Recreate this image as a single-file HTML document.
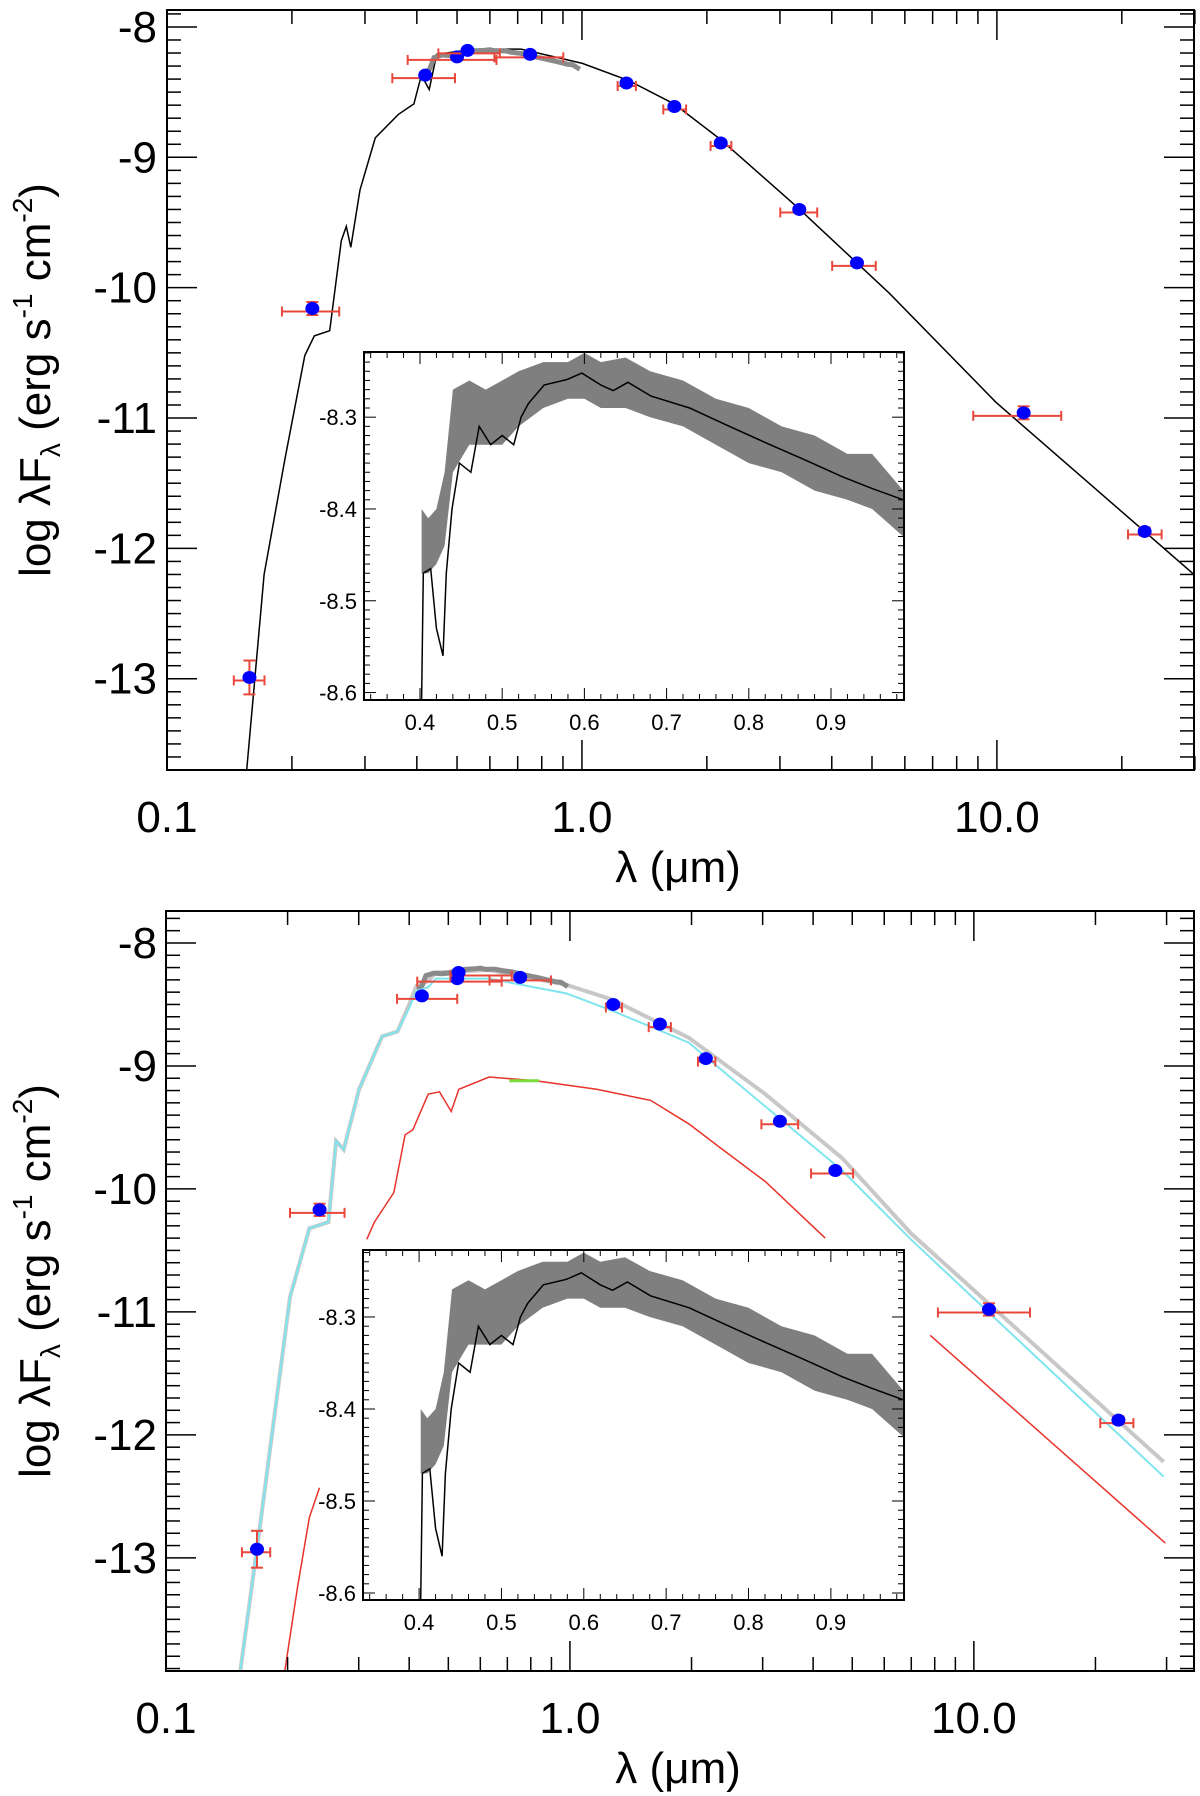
<!DOCTYPE html>
<html><head><meta charset="utf-8"><style>
html,body{margin:0;padding:0;background:#fff;}
svg{display:block;font-family:"Liberation Sans",Arial,sans-serif;}
</style></head><body>
<svg id="chart" width="1200" height="1796" viewBox="0 0 1200 1796" xmlns="http://www.w3.org/2000/svg"></svg>
<script>
// ---------- DATA ----------
const topLam = [0.158,0.224,0.419,0.50,0.53,0.75,1.28,1.67,2.16,3.34,4.6,11.6,22.7];
const topFlux = [-12.99,-10.16,-8.37,-8.23,-8.18,-8.21,-8.43,-8.61,-8.89,-9.40,-9.81,-10.96,-11.87];
const topXlo = [-0.839,-0.723,-0.457,-0.42,-0.346,-0.211,0.086,0.196,0.31,0.478,0.603,0.943,1.316];
const topXhi = [-0.765,-0.585,-0.306,-0.206,-0.198,-0.045,0.13,0.251,0.36,0.567,0.708,1.155,1.397];
const topYerr = [0.13,0.05,0.02,0.02,0.02,0.02,0.02,0.02,0.02,0.02,0.02,0.05,0.03];
const topModelLogLam = [-0.808,-0.766,-0.716,-0.668,-0.645,-0.608,-0.58,-0.568,-0.557,-0.535,-0.498,-0.442,-0.405,-0.387,-0.368,-0.35,-0.258,-0.147,0.001,0.112,0.222,0.333,0.518,0.74,0.998,1.475];
const topModelFlux = [-13.70,-12.2,-11.32,-10.52,-10.37,-10.33,-9.64,-9.53,-9.69,-9.25,-8.85,-8.67,-8.59,-8.37,-8.48,-8.21,-8.17,-8.17,-8.28,-8.41,-8.59,-8.86,-9.38,-10.04,-10.88,-12.2];

const botLam = [0.168,0.24,0.43,0.526,0.53,0.753,1.28,1.67,2.17,3.31,4.54,10.9,22.8];
const botFlux = [-12.93,-10.17,-8.43,-8.29,-8.24,-8.28,-8.50,-8.66,-8.94,-9.45,-9.85,-10.98,-11.88];
const botXlo = [-0.812,-0.693,-0.428,-0.378,-0.296,-0.199,0.089,0.195,0.317,0.474,0.597,0.911,1.313];
const botXhi = [-0.742,-0.558,-0.279,-0.169,-0.144,-0.047,0.129,0.25,0.36,0.565,0.701,1.139,1.395];
const botYerr = [0.15,0.05,0.02,0.02,0.02,0.02,0.02,0.02,0.02,0.02,0.02,0.05,0.03];
const cyanLogLam = [-0.816,-0.768,-0.693,-0.645,-0.598,-0.579,-0.56,-0.522,-0.465,-0.427,-0.398,-0.38,-0.351,-0.332,-0.2,-0.009,0.104,0.294,0.484,0.674,0.844,1.47];
const cyanFlux = [-13.92,-12.76,-10.88,-10.32,-10.27,-9.61,-9.68,-9.19,-8.76,-8.72,-8.53,-8.39,-8.36,-8.29,-8.29,-8.41,-8.55,-8.81,-9.33,-9.85,-10.41,-12.34];
const grayLogLam = [-0.816,-0.768,-0.693,-0.645,-0.598,-0.579,-0.56,-0.522,-0.465,-0.427,-0.398,-0.38,-0.351,-0.332,-0.2,-0.009,0.104,0.294,0.484,0.674,0.844,1.47];
const grayFlux = [-13.92,-12.76,-10.88,-10.32,-10.27,-9.61,-9.68,-9.19,-8.76,-8.72,-8.50,-8.35,-8.31,-8.24,-8.22,-8.34,-8.46,-8.77,-9.23,-9.75,-10.36,-12.22];
const redLogLam = [-0.503,-0.484,-0.436,-0.408,-0.389,-0.351,-0.323,-0.294,-0.275,-0.2,-0.085,0.066,0.2,0.294,0.37,0.484,0.632];
const redFlux = [-10.41,-10.27,-10.03,-9.56,-9.52,-9.23,-9.21,-9.37,-9.19,-9.09,-9.12,-9.19,-9.28,-9.47,-9.66,-9.94,-10.40];
const redTailLogLam = [0.892,1.474];
const redTailFlux = [-11.19,-12.88];
const redUvLogLam = [-0.706,-0.674,-0.645,-0.62];
const redUvFlux = [-13.92,-13.23,-12.67,-12.43];
const greenLogLam = [-0.15,-0.076];
const greenFlux = [-9.12,-9.12];

const insetLam = [0.402,0.404,0.413,0.42,0.428,0.432,0.439,0.448,0.462,0.472,0.486,0.5,0.514,0.523,0.532,0.551,0.579,0.597,0.62,0.635,0.653,0.681,0.728,0.774,0.821,0.867,0.914,0.951,0.988];
const insetFlux = [-8.608,-8.47,-8.465,-8.53,-8.56,-8.47,-8.40,-8.35,-8.36,-8.31,-8.33,-8.32,-8.33,-8.30,-8.285,-8.265,-8.259,-8.252,-8.265,-8.271,-8.262,-8.277,-8.29,-8.309,-8.328,-8.346,-8.365,-8.378,-8.39];
const bandLam = [0.402,0.41,0.42,0.43,0.44,0.46,0.48,0.50,0.52,0.55,0.58,0.60,0.62,0.65,0.68,0.72,0.76,0.80,0.84,0.88,0.92,0.95,0.988];
const bandUpper = [-8.40,-8.41,-8.40,-8.36,-8.27,-8.26,-8.27,-8.26,-8.25,-8.24,-8.24,-8.23,-8.24,-8.235,-8.25,-8.26,-8.28,-8.29,-8.31,-8.32,-8.34,-8.34,-8.38];
const bandLower = [-8.47,-8.47,-8.46,-8.44,-8.36,-8.33,-8.33,-8.33,-8.31,-8.29,-8.28,-8.28,-8.29,-8.29,-8.30,-8.31,-8.33,-8.35,-8.36,-8.38,-8.39,-8.40,-8.43];
const yTickLabels = ["-8","-9","-10","-11","-12","-13"];
const xTickLabels = ["0.1","1.0","10.0"];
const insetYTicks = ["-8.3","-8.4","-8.5","-8.6"];
const insetXTicks = ["0.4","0.5","0.6","0.7","0.8","0.9"];

// ---------- HELPERS ----------
const NS = "http://www.w3.org/2000/svg";
const svg = document.getElementById('chart');
function mk(tag, attrs, parent){
  const e = document.createElementNS(NS, tag);
  for (const k in attrs) e.setAttribute(k, attrs[k]);
  (parent||svg).appendChild(e);
  return e;
}
function makeAxes(L,R,T,B,xmin,xmax,ymin,ymax,log){
  return {
    x: v => L + ((log?Math.log10(v):v) - xmin)/(xmax-xmin)*(R-L),
    xl: lv => L + (lv - xmin)/(xmax-xmin)*(R-L),
    y: v => T + (ymax - v)/(ymax-ymin)*(B-T),
    L,R,T,B
  };
}
function pathFrom(xs, ys, fx, fy){
  return xs.map((v,i)=> (i?'L':'M') + fx(v).toFixed(1) + ',' + fy(ys[i]).toFixed(1)).join(' ');
}

function drawMainFrame(ax, g, name){
  const fr = mk('rect',{x:ax.L,y:ax.T,width:ax.R-ax.L,height:ax.B-ax.T,fill:'none',stroke:'#000','stroke-width':2},g);
  
  
  // y ticks
  for (let i=-140;i<=-77;i++){
    const v=i/10; const yy=ax.y(v);
    if (yy<ax.T||yy>ax.B) continue;
    const major = (i%10===0);
    const len = major?30:14;
    mk('line',{x1:ax.L,y1:yy,x2:ax.L+len,y2:yy,stroke:'#000','stroke-width':1.5},g);
    mk('line',{x1:ax.R,y1:yy,x2:ax.R-len,y2:yy,stroke:'#000','stroke-width':1.5},g);
  }
  yTickLabels.forEach((lab,i)=>{
    const v = -8-i;
    const t = mk('text',{x:157,y:ax.y(v)+15,'text-anchor':'end','font-size':44,fill:'#000'},g);
    t.textContent = lab;
    
    
  });
  // x ticks
  for (let d=-1; d<=1; d++){
    for (let m=1;m<=9;m++){
      const v = m*Math.pow(10,d); const xx=ax.x(v);
      if (xx<ax.L-1||xx>ax.R+1) continue;
      const len = m===1?30:14;
      mk('line',{x1:xx,y1:ax.B,x2:xx,y2:ax.B-len,stroke:'#000','stroke-width':1.5},g);
      mk('line',{x1:xx,y1:ax.T,x2:xx,y2:ax.T+len,stroke:'#000','stroke-width':1.5},g);
    }
  }
  xTickLabels.forEach((lab,i)=>{
    const v = Math.pow(10,i-1);
    const t = mk('text',{x:ax.x(v),y:ax.B+62,'text-anchor':'middle','font-size':44,fill:'#000'},g);
    t.textContent = lab;
    
    
  });
  const xt = mk('text',{x:678,y:ax.B+112,'text-anchor':'middle','font-size':44,fill:'#000'},g);
  xt.textContent = 'λ (μm)';
  
  
  const cy = (ax.T+ax.B)/2 - 10;
  const yt = mk('text',{x:0,y:0,'text-anchor':'middle','font-size':44,fill:'#000',transform:`translate(50,${cy}) rotate(-90)`},g);
  yt.innerHTML = 'log λF<tspan font-size="28" dy="10">λ</tspan><tspan dy="-10"> (erg s</tspan><tspan font-size="28" dy="-18">-1</tspan><tspan dy="18"> cm</tspan><tspan font-size="28" dy="-18">-2</tspan><tspan dy="18">)</tspan>';
  
  
}

function drawPoints(ax, g, lam, flux, xlo, xhi, yerr){
  lam.forEach((l,i)=>{
    const cx = ax.x(l), cy = ax.y(flux[i]);
    const eg = mk('g',{},g);
    
    
    const x1 = ax.xl(xlo[i]), x2 = ax.xl(xhi[i]);
    const ey = cy+3;
    const ey1 = ax.y(flux[i]+yerr[i]), ey2 = ax.y(flux[i]-yerr[i]);
    const st = {stroke:'#e8473c','stroke-width':2,fill:'none'};
    mk('line',Object.assign({x1:x1,y1:ey,x2:x2,y2:ey},st),eg);
    mk('line',Object.assign({x1:x1,y1:ey-5,x2:x1,y2:ey+5},st),eg);
    mk('line',Object.assign({x1:x2,y1:ey-5,x2:x2,y2:ey+5},st),eg);
    mk('line',Object.assign({x1:cx,y1:ey1,x2:cx,y2:ey2},st),eg);
    mk('line',Object.assign({x1:cx-6,y1:ey1,x2:cx+6,y2:ey1},st),eg);
    mk('line',Object.assign({x1:cx-6,y1:ey2,x2:cx+6,y2:ey2},st),eg);
    mk('ellipse',{cx:cx,cy:cy,rx:7,ry:6.5,fill:'#0000ff'},eg);
  });
}

function drawInset(ax, g){
  const bg = mk('rect',{x:ax.L,y:ax.T,width:ax.R-ax.L,height:ax.B-ax.T,fill:'#fff',stroke:'none'},g);
  
  
  let d = bandLam.map((v,i)=>(i?'L':'M')+ax.x(v).toFixed(1)+','+ax.y(bandUpper[i]).toFixed(1)).join(' ');
  for (let i=bandLam.length-1;i>=0;i--) d += ' L'+ax.x(bandLam[i]).toFixed(1)+','+ax.y(bandLower[i]).toFixed(1);
  const band = mk('path',{d:d+' Z',fill:'#7f7f7f',stroke:'none'},g);
  
  
  const ln = mk('path',{d:pathFrom(insetLam,insetFlux,ax.x,ax.y),fill:'none',stroke:'#000','stroke-width':1.5},g);
  
  
  const fr = mk('rect',{x:ax.L,y:ax.T,width:ax.R-ax.L,height:ax.B-ax.T,fill:'none',stroke:'#000','stroke-width':2},g);
  
  
  for (let i=-861;i<=-822;i++){
    const v=i/100, yy=ax.y(v);
    if (yy<ax.T||yy>ax.B) continue;
    const len = (i%10===0)?12:6;
    mk('line',{x1:ax.L,y1:yy,x2:ax.L+len,y2:yy,stroke:'#000','stroke-width':1},g);
    mk('line',{x1:ax.R,y1:yy,x2:ax.R-len,y2:yy,stroke:'#000','stroke-width':1},g);
  }
  for (let i=34;i<=98;i+=2){
    const v=i/100, xx=ax.x(v);
    const len = (i%10===0)?12:6;
    mk('line',{x1:xx,y1:ax.B,x2:xx,y2:ax.B-len,stroke:'#000','stroke-width':1},g);
    mk('line',{x1:xx,y1:ax.T,x2:xx,y2:ax.T+len,stroke:'#000','stroke-width':1},g);
  }
  insetYTicks.forEach((lab,i)=>{
    const t = mk('text',{x:ax.L-7,y:ax.y(-8.3-i*0.1)+8,'text-anchor':'end','font-size':22,fill:'#000'},g);
    t.textContent = lab;
    
    
  });
  insetXTicks.forEach((lab,i)=>{
    const t = mk('text',{x:ax.x(0.4+i*0.1),y:ax.B+30,'text-anchor':'middle','font-size':22,fill:'#000'},g);
    t.textContent = lab;
    
    
  });
}

// ---------- TOP PANEL ----------
const gTop = mk('g',{});


const axT = makeAxes(167,1194,10,770,-1,1.475,-13.70,-7.87,true);
const cpT = mk('clipPath',{id:'clipTop'},gTop); mk('rect',{x:167,y:10,width:1027,height:760},cpT);
const mlT = mk('path',{d:pathFrom(topModelLogLam,topModelFlux,axT.xl,axT.y),fill:'none',stroke:'#000','stroke-width':1.5,'clip-path':'url(#clipTop)'},gTop);


const bandT = mk('path',{d:pathFrom(bandLam.map(v=>Math.log10(v)).slice(2), bandLam.slice(2).map((v,i)=>(bandUpper[i+2]+bandLower[i+2])/2+0.08), axT.xl, axT.y),fill:'none',stroke:'#8a8a8a','stroke-width':5},gTop);


drawPoints(axT,gTop,topLam,topFlux,topXlo,topXhi,topYerr);
const axTi = makeAxes(364,904,352,700,0.3319,0.9888,-8.6081,-8.229,false);
drawInset(axTi,gTop);
drawMainFrame(axT,gTop,'top-panel');

// ---------- BOTTOM PANEL ----------
const gBot = mk('g',{});


const axB = makeAxes(166,1194,911,1671,-1,1.545,-13.92,-7.74,true);
const cpB = mk('clipPath',{id:'clipBot'},gBot); mk('rect',{x:166,y:911,width:1028,height:760},cpB);
const gr = mk('path',{d:pathFrom(grayLogLam,grayFlux,axB.xl,axB.y),fill:'none',stroke:'#c8c8c8','stroke-width':4,'clip-path':'url(#clipBot)'},gBot);


const bandB = mk('path',{d:pathFrom(bandLam.map(v=>Math.log10(v)).slice(2), bandLam.slice(2).map((v,i)=>(bandUpper[i+2]+bandLower[i+2])/2+0.05), axB.xl, axB.y),fill:'none',stroke:'#8a8a8a','stroke-width':5},gBot);


const cy = mk('path',{d:pathFrom(cyanLogLam,cyanFlux,axB.xl,axB.y),fill:'none',stroke:'#7fe5ee','stroke-width':2,'clip-path':'url(#clipBot)'},gBot);


const rd = mk('path',{d:pathFrom(redLogLam,redFlux,axB.xl,axB.y),fill:'none',stroke:'#e8322a','stroke-width':1.5},gBot);


const rdt = mk('path',{d:pathFrom(redTailLogLam,redTailFlux,axB.xl,axB.y),fill:'none',stroke:'#e8322a','stroke-width':1.5},gBot);


const rdu = mk('path',{d:pathFrom(redUvLogLam,redUvFlux,axB.xl,axB.y),fill:'none',stroke:'#e8322a','stroke-width':1.5,'clip-path':'url(#clipBot)'},gBot);


const gn = mk('path',{d:pathFrom(greenLogLam,greenFlux,axB.xl,axB.y),fill:'none',stroke:'#7ddc3c','stroke-width':3},gBot);


drawPoints(axB,gBot,botLam,botFlux,botXlo,botXhi,botYerr);
const axBi = makeAxes(363,904,1250,1600,0.3319,0.9888,-8.6076,-8.2272,false);
drawInset(axBi,gBot);
drawMainFrame(axB,gBot,'bottom-panel');
</script>
</body></html>
